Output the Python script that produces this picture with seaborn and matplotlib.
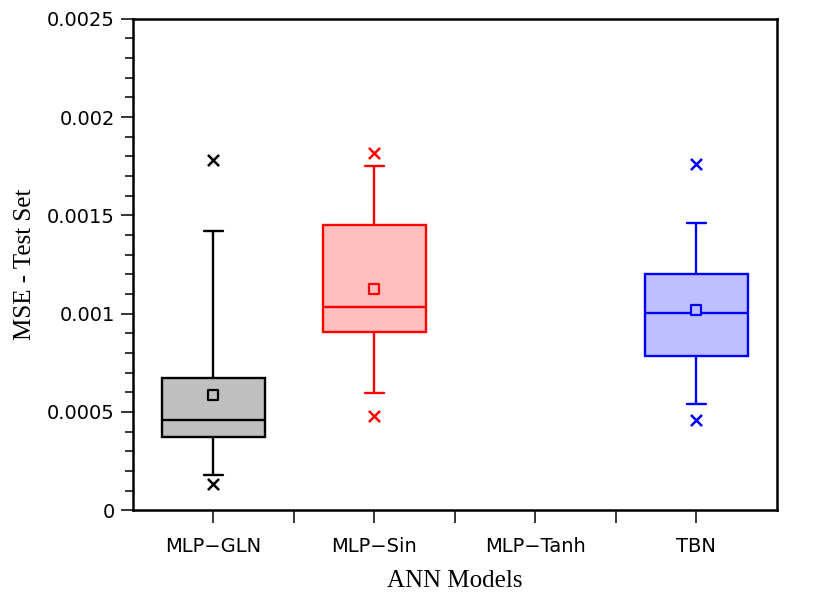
import pandas as pd
import seaborn as sns
import matplotlib.pyplot as plt
from matplotlib.ticker import FixedLocator

# values (MLP-Tanh has no box)
categories = ["MLP\u2212GLN", "MLP\u2212Sin", "MLP\u2212Tanh", "TBN"]
whisker_low = [0.000178, 0.000596, None, 0.000540]
q1 = [0.000372, 0.000906, None, 0.000784]
median = [0.000458, 0.001034, None, 0.001003]
q3 = [0.000672, 0.001451, None, 0.001202]
whisker_high = [0.001420, 0.001752, None, 0.001461]
means = [0.000586, 0.001125, None, 0.001018]
min_marks = [0.000132, 0.000479, None, 0.000458]
max_marks = [0.001782, 0.001818, None, 0.001762]

y_ticks = [0, 0.0005, 0.001, 0.0015, 0.002, 0.0025]
y_tick_labels = ["0", "0.0005", "0.001", "0.0015", "0.002", "0.0025"]

face_palette = {"MLP\u2212GLN": "#bfbfbf", "MLP\u2212Sin": "#ffbfbf", "TBN": "#bfbfff"}
edge_palette = {"MLP\u2212GLN": "black", "MLP\u2212Sin": "#ff0000", "TBN": "#0000ff"}

sns.set_style("ticks")
plt.rcParams["font.family"] = ["DejaVu Sans"]
plt.rcParams["text.color"] = "black"
plt.rcParams["axes.labelcolor"] = "black"
plt.rcParams["xtick.color"] = "black"
plt.rcParams["ytick.color"] = "black"

fig = plt.figure(figsize=(8.3, 6.06), dpi=100)
ax = fig.add_axes([0.160, 0.158, 0.776, 0.811])

for i, name in enumerate(categories):
    if median[i] is None:
        continue
    face = face_palette[name]
    edge = edge_palette[name]
    # five numbers -> with whis=(0, 100) the box shows them exactly
    stats = pd.DataFrame({
        "model": [name] * 5,
        "mse": [whisker_low[i], q1[i], median[i], q3[i], whisker_high[i]],
    })
    sns.boxplot(data=stats, x="model", y="mse", order=categories,
                whis=(0, 100), width=0.64, color=face, linecolor=edge,
                linewidth=1.7, saturation=1, ax=ax)
    box = ax.containers[-1]
    for cap in box.caps:
        x0, x1 = cap.get_xdata()
        c = (x0 + x1) / 2
        cap.set_xdata([c - 0.06, c + 0.06])

    sns.stripplot(x=[name], y=[means[i]], order=categories, jitter=False,
                  marker="s", color=face, edgecolor=edge, linewidth=1.6,
                  size=6.5, zorder=5, ax=ax)
    sns.stripplot(x=[name, name], y=[min_marks[i], max_marks[i]],
                  order=categories, jitter=False, marker="x", color=edge,
                  linewidth=1.8, size=8, zorder=5, ax=ax)

ax.set_xlim(-0.5, 3.5)
ax.set_ylim(0, 0.0025)
ax.set_xticks(range(len(categories)))
ax.set_xticklabels(categories)
ax.xaxis.set_minor_locator(FixedLocator([0.5, 1.5, 2.5]))
ax.yaxis.set_major_locator(FixedLocator(y_ticks))
ax.set_yticklabels(y_tick_labels)
ax.yaxis.set_minor_locator(FixedLocator([k * 0.0001 for k in range(26)]))

ax.tick_params(axis="both", which="major", labelsize=14, length=9,
               width=1.1, pad=4, color="black", labelcolor="black")
ax.tick_params(axis="y", which="minor", length=5.5, width=1.1)
ax.tick_params(axis="x", which="minor", length=9, width=1.1)
ax.tick_params(axis="x", which="major", pad=10)
for side in ["left", "right", "top", "bottom"]:
    ax.spines[side].set_visible(True)
    ax.spines[side].set_linewidth(1.8)
    ax.spines[side].set_color("black")

ax.set_xlabel("ANN Models", family="Liberation Serif", fontsize=18,
              labelpad=10, color="black")
ax.set_ylabel("MSE - Test Set", family="Liberation Serif", fontsize=18,
              labelpad=8, color="black")

fig.savefig("out.png", dpi=100)
